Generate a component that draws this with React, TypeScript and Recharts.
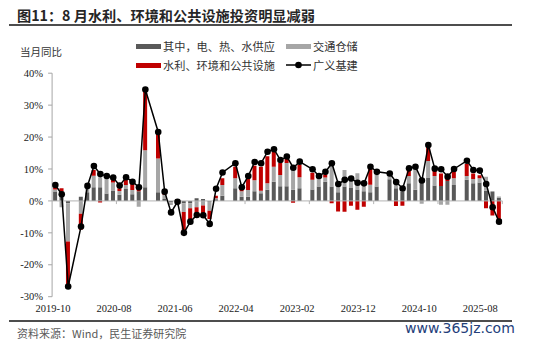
import React from 'react';
import { ComposedChart, Bar, Line, XAxis, YAxis, ReferenceLine } from 'recharts';

const months = [
  '2019-11', '2019-12',
  '2020-01', '2020-02', '2020-03', '2020-04', '2020-05', '2020-06', '2020-07', '2020-08', '2020-09', '2020-10', '2020-11', '2020-12',
  '2021-01', '2021-02', '2021-03', '2021-04', '2021-05', '2021-06', '2021-07', '2021-08', '2021-09', '2021-10', '2021-11', '2021-12',
  '2022-01', '2022-02', '2022-03', '2022-04', '2022-05', '2022-06', '2022-07', '2022-08', '2022-09', '2022-10', '2022-11', '2022-12',
  '2023-01', '2023-02', '2023-03', '2023-04', '2023-05', '2023-06', '2023-07', '2023-08', '2023-09', '2023-10', '2023-11', '2023-12',
  '2024-01', '2024-02', '2024-03', '2024-04', '2024-05', '2024-06', '2024-07', '2024-08', '2024-09', '2024-10', '2024-11', '2024-12',
  '2025-01', '2025-02', '2025-03', '2025-04', '2025-05', '2025-06', '2025-07', '2025-08',
];

// 广义基建 当月同比 (%)
const total = [
  5.0, 2.1,
  -26.8, null, -8.0, 4.7, 10.9, 8.4, 7.8, 7.3, 4.8, 7.4, 6.0, 4.3,
  34.9, null, 21.6, 2.9, -3.6, -0.3, -10.0, -6.5, -4.4, -4.5, -7.2, 3.8,
  8.9, null, 11.8, 4.3, 7.8, 12.2, 11.8, 15.4, 16.2, 12.8, 13.9, 10.4,
  12.3, null, 9.9, 7.8, 9.1, 11.8, 5.3, 6.6, 7.0, 5.7, 5.5, 10.7,
  9.1, null, 8.6, 5.9, 3.9, 10.2, 10.7, 6.4, 17.5, 10.1, 9.9, 7.6,
  10.0, null, 12.6, 9.7, 9.5, 5.3, -2.0, -6.5,
];

// 其中，电、热、水供应
const power = [
  2.8, 3.0,
  -0.7, null, 1.3, 2.7, 4.3, 4.3, 2.3, 3.3, 1.9, 3.7, 2.1, 3.0,
  4.3, null, 2.7, 0.6, -0.4, 0.4, -0.7, -0.7, 0.8, 0.6, -0.3, 0.5,
  1.6, null, 4.0, 1.3, 1.3, 3.0, 2.4, 3.5, 6.0, 4.6, 4.6, 3.5,
  4.0, null, 3.6, 4.5, 6.0, 4.5, 2.7, 4.5, 4.2, 3.6, 3.0, 2.7,
  4.5, null, 6.8, 4.0, 2.9, 5.5, 3.5, 6.4, 7.3, 4.8, 4.7, 6.2,
  5.0, null, 6.6, 5.5, 5.8, 3.2, 2.8, 1.0,
];

// 交通仓储
const transport = [
  0.8, -2.0,
  -12.0, null, -4.0, 1.5, 3.6, 3.1, 5.0, 2.5, 1.2, 1.3, 1.3, -1.8,
  11.6, null, 10.6, 1.3, -0.9, -0.5, -2.8, -1.6, -2.0, -1.4, -2.8, 0.3,
  3.4, null, 3.1, 1.7, 2.1, 3.5, 0.8, 2.0, 4.7, 3.5, 7.3, 6.3,
  3.4, null, 3.0, 2.6, 1.3, 7.0, 2.6, 5.2, 2.8, 5.1, 2.8, 2.4,
  4.0, null, 1.2, 1.6, 0.8, 2.3, 6.8, -0.9, 5.2, 3.0, -1.2, -1.2,
  2.1, null, 1.2, 1.4, 1.3, 4.4, 0.3, 0.4,
];

// 水利、环境和公共设施
const water = [
  0.6, 1.0,
  -14.0, null, -5.0, 0.3, 1.8, -0.5, 0.2, 0.8, 0.9, 1.6, 2.6, 0.8,
  19.0, null, 8.2, 0.3, 0, 0.2, -6.0, -3.8, -2.2, -2.6, -2.6, 0.8,
  2.1, null, 3.6, 1.3, 4.0, 4.5, 7.5, 8.5, 4.6, 3.8, 1.6, -0.6,
  3.9, null, 2.2, 0.4, 1.0, -0.7, -3.3, -3.4, -1.5, -2.8, -1.8, 5.0,
  0.4, null, 0.3, -1.6, -1.5, 1.8, 0.3, 0.3, 4.5, 1.6, 3.9, 1.0,
  2.6, null, 3.8, 1.7, 0.9, -2.3, -4.6, -6.8,
];

const xLabels = ['2019-10', '2020-08', '2021-06', '2022-04', '2023-02', '2023-12', '2024-10', '2025-08'];
const xLabelStart = -0.36;
const xLabelStep = 9.49;
const yTicks = [-30, -20, -10, 0, 10, 20, 30, 40];
const boundaryTicks = [9.5, 19.5, 29.5, 39.5, 49.5, 59.5, 69.5];

const COLORS = { power: '#595959', transport: '#a6a6a6', water: '#c00000', line: '#000000' };

const data = months.map((m, i) => ({
  idx: i,
  month: m,
  power: power[i],
  transport: transport[i],
  water: water[i],
  total: total[i],
}));

const serif = '"Liberation Serif", "Times New Roman", serif';
const cjk = '"Noto Sans CJK SC", "Noto Sans", sans-serif';

function LegendItem({ kind, color, label, left, top }: any) {
  return (
    <div style={{ position: 'absolute', left, top, height: 14, display: 'flex', alignItems: 'center' }}>
      {kind === 'bar' ? (
        <div style={{ width: 25, height: 5, background: color, marginRight: 2 }} />
      ) : (
        <svg width={25} height={10} style={{ marginRight: 2 }}>
          <line x1={0} y1={5} x2={25} y2={5} stroke={color} strokeWidth={1.5} />
          <circle cx={12.5} cy={5} r={3.3} fill={color} />
        </svg>
      )}
      <span style={{ fontFamily: cjk, fontSize: 11.2, color: '#333', lineHeight: '14px', whiteSpace: 'nowrap' }}>{label}</span>
    </div>
  );
}

export default function App() {
  return (
    <div style={{ position: 'absolute', left: 0, top: 0, width: 550, height: 353, background: '#fff', overflow: 'hidden' }}>
      <div style={{ position: 'absolute', left: 17, top: 7, fontFamily: cjk, fontWeight: 700, fontSize: 14.2, color: '#262626', lineHeight: '17px', whiteSpace: 'nowrap' }}>
        图11：8 月水利、环境和公共设施投资明显减弱
      </div>
      <div style={{ position: 'absolute', left: 9, top: 24, width: 503, height: 1.5, background: '#4d4d4d' }} />

      <div style={{ position: 'absolute', left: 20, top: 45, fontFamily: cjk, fontSize: 10.5, color: '#333', lineHeight: '14px', whiteSpace: 'nowrap' }}>
        当月同比
      </div>

      <LegendItem kind="bar" color={COLORS.power} label="其中，电、热、水供应" left={136} top={39} />
      <LegendItem kind="bar" color={COLORS.transport} label="交通仓储" left={286} top={39} />
      <LegendItem kind="bar" color={COLORS.water} label="水利、环境和公共设施" left={136} top={58} />
      <LegendItem kind="line" color={COLORS.line} label="广义基建" left={286} top={58} />

      <div style={{ position: 'absolute', left: 0, top: 0 }}>
        <ComposedChart
          width={550}
          height={353}
          data={data}
          stackOffset="sign"
          margin={{ top: 73.2, right: 47.7, bottom: 26.3, left: 0 }}
        >
          <XAxis
            dataKey="idx"
            type="number"
            domain={[-0.5, 69.5]}
            allowDataOverflow
            ticks={xLabels.map((_, k) => xLabelStart + k * xLabelStep)}
            tickFormatter={(_: any, k: number) => xLabels[k]}
            axisLine={false}
            tickLine={false}
            interval={0}
            height={30}
            tick={{ fontFamily: serif, fontSize: 10.5, fill: '#1a1a1a' }}
          />
          <YAxis
            type="number"
            domain={[-30, 40]}
            ticks={yTicks}
            interval={0}
            width={52.1}
            tickFormatter={(v: number) => `${v}%`}
            axisLine={{ stroke: '#a6a6a6' }}
            tickLine={{ stroke: '#a6a6a6' }}
            tickSize={4}
            tickMargin={5}
            tick={{ fontFamily: serif, fontSize: 10.5, fill: '#1a1a1a' }}
          />
          <ReferenceLine y={0} stroke="#b3b3b3" strokeWidth={1} />
          {boundaryTicks.map((b) => (
            <ReferenceLine key={b} segment={[{ x: b, y: 0 }, { x: b, y: -1 }]} stroke="#b3b3b3" strokeWidth={1} />
          ))}
          <Bar dataKey="power" stackId="a" fill={COLORS.power} barSize={4} isAnimationActive={false} />
          <Bar dataKey="transport" stackId="a" fill={COLORS.transport} barSize={4} isAnimationActive={false} />
          <Bar dataKey="water" stackId="a" fill={COLORS.water} barSize={4} isAnimationActive={false} />
          <Line
            dataKey="total"
            type="linear"
            stroke={COLORS.line}
            strokeWidth={1.5}
            connectNulls
            dot={{ r: 3.3, fill: COLORS.line, stroke: COLORS.line, strokeWidth: 0 }}
            activeDot={false}
            isAnimationActive={false}
          />
        </ComposedChart>
      </div>

      <div style={{ position: 'absolute', left: 9, top: 320, width: 503, height: 1.5, background: '#4d4d4d' }} />
      <div style={{ position: 'absolute', left: 17, top: 326, fontFamily: cjk, fontSize: 11, color: '#595959', lineHeight: '14px', whiteSpace: 'nowrap' }}>
        资料来源：Wind，民生证券研究院
      </div>
      <div style={{ position: 'absolute', left: 405, top: 320, fontFamily: '"DejaVu Sans", sans-serif', fontSize: 14, color: '#23407a', lineHeight: '17px', whiteSpace: 'nowrap' }}>
        www.365jz.com
      </div>
    </div>
  );
}
